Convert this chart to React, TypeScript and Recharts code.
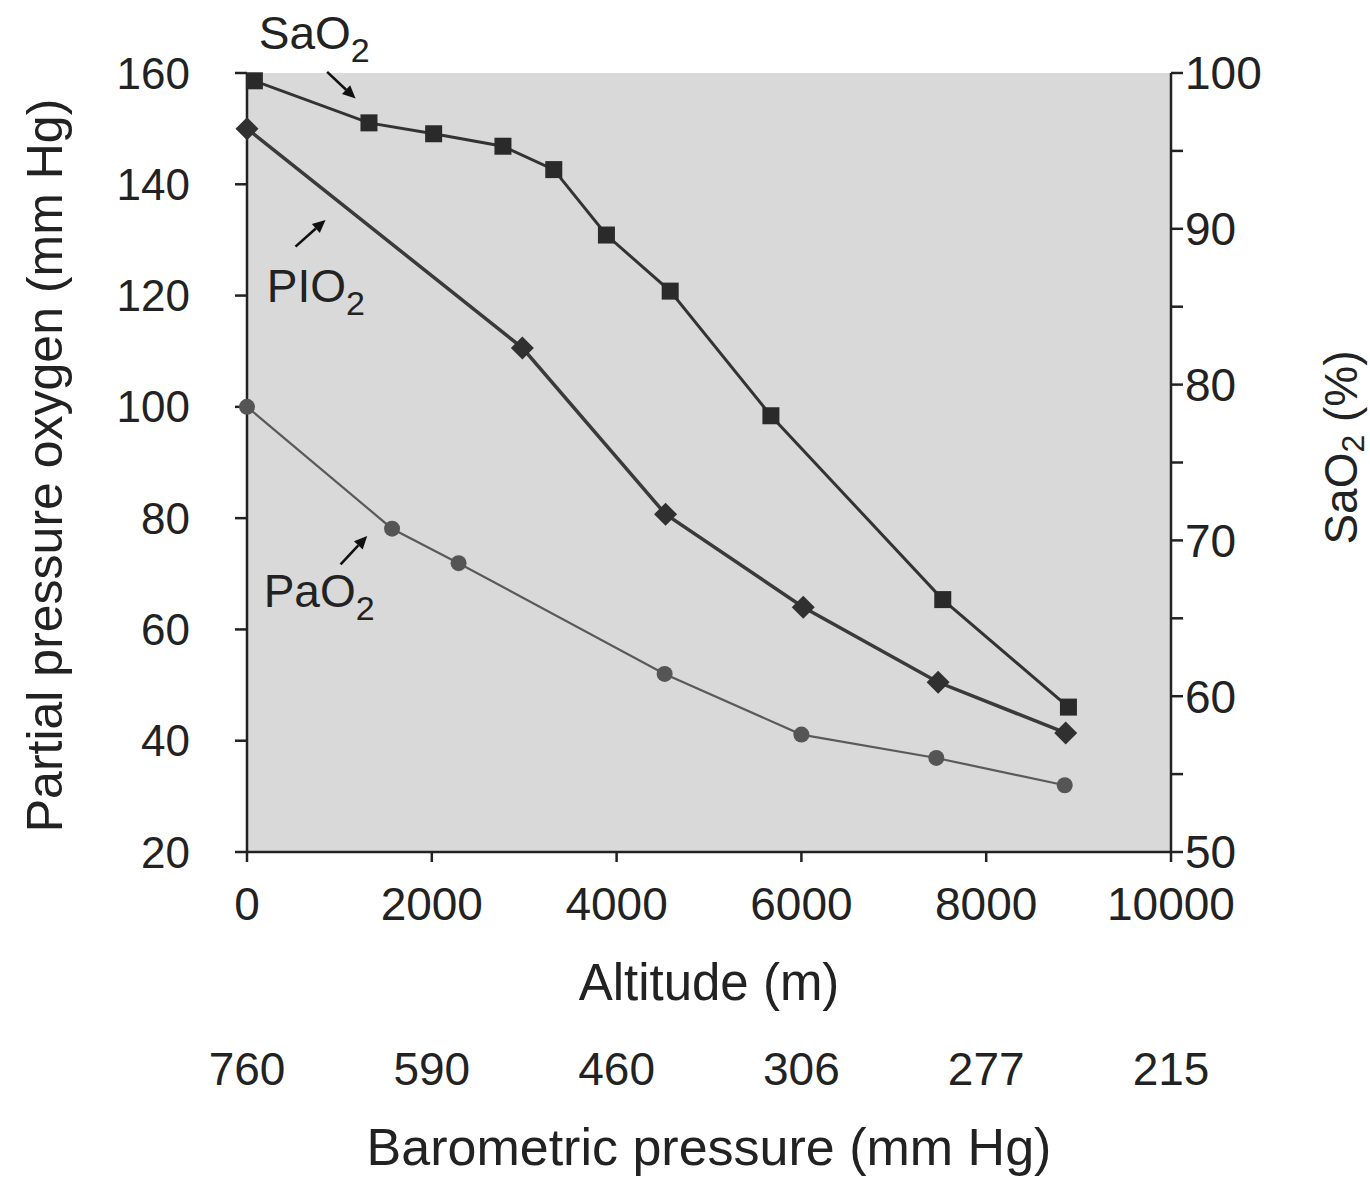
import React from 'react';
import {
  LineChart,
  Line,
  XAxis,
  YAxis,
  CartesianGrid,
  ReferenceLine,
  ReferenceDot,
} from 'recharts';

const FONT = '"Liberation Sans", Arial, Helvetica, sans-serif';
const INK = '#222';

// axes
const altTicks = [0, 2000, 4000, 6000, 8000, 10000];
const baroLabels = ['760', '590', '460', '306', '277', '215'];
const ppTicks = [20, 40, 60, 80, 100, 120, 140, 160];
const satTicks = [50, 55, 60, 65, 70, 75, 80, 85, 90, 95, 100];

// SaO2 (%) – squares, right axis
const saoAlt = [80, 1320, 2020, 2770, 3320, 3890, 4580, 5670, 7530, 8890];
const saoPct = [99.5, 96.8, 96.1, 95.3, 93.8, 89.6, 86.0, 78.0, 66.2, 59.3];

// PIO2 (mm Hg) – diamonds
const pioAlt = [0, 2980, 4530, 6020, 7480, 8860];
const pioMmHg = [150, 110.6, 80.7, 64.0, 50.5, 41.4];

// PaO2 (mm Hg) – circles
const paoAlt = [0, 1570, 2290, 4520, 6000, 7460, 8850];
const paoMmHg = [100, 78.1, 71.9, 52.0, 41.1, 36.9, 32.0];

// callout texts and arrows, in data units (altitude, mm Hg)
const callouts = [
  { main: 'SaO', sub: '2', alt: 127, pp: 164.4, from: [867, 160.2], to: [1175, 155.4] },
  { main: 'PIO', sub: '2', alt: 214, pp: 118.9, from: [525, 128.8], to: [850, 133.6] },
  { main: 'PaO', sub: '2', alt: 180, pp: 64.0, from: [1013, 71.7], to: [1301, 76.8] },
];

const zip = (xs: number[], ys: number[]) => xs.map((alt, i) => ({ alt, v: ys[i] }));
const saoData = zip(saoAlt, saoPct);
const pioData = zip(pioAlt, pioMmHg);
const paoData = zip(paoAlt, paoMmHg);

const Square = (p: any) => (
  <rect key={`sq-${p.index}`} x={p.cx - 8.5} y={p.cy - 8.5} width={17} height={17} fill="#2a2a2a" />
);

const Diamond = (p: any) => (
  <polygon
    key={`dm-${p.index}`}
    points={`${p.cx},${p.cy - 11.5} ${p.cx + 11.5},${p.cy} ${p.cx},${p.cy + 11.5} ${p.cx - 11.5},${p.cy}`}
    fill="#303030"
  />
);

const Circle = (p: any) => <circle key={`ci-${p.index}`} cx={p.cx} cy={p.cy} r={8} fill="#555" />;

const Arrow = (p: any) => {
  const { x1, y1, x2, y2 } = p;
  const ang = Math.atan2(y2 - y1, x2 - x1);
  const L = 13;
  const W = 6;
  const bx = x2 - L * Math.cos(ang);
  const by = y2 - L * Math.sin(ang);
  const px = -Math.sin(ang) * W;
  const py = Math.cos(ang) * W;
  return (
    <g>
      <line x1={x1} y1={y1} x2={bx} y2={by} stroke="#111" strokeWidth={2.6} />
      <polygon points={`${x2},${y2} ${bx + px},${by + py} ${bx - px},${by - py}`} fill="#111" />
    </g>
  );
};

const Formula = (main: string, sub: string) => (p: any) => (
  <text x={p.cx} y={p.cy} fill={INK} fontFamily={FONT} fontSize={46}>
    <tspan>{main}</tspan>
    <tspan fontSize={34} dy={13}>{sub}</tspan>
  </text>
);

// altitude tick with the matching barometric pressure printed further down
const AltTick = (p: any) => {
  const { x, y, payload } = p;
  const i = altTicks.indexOf(payload.value);
  return (
    <g>
      <text x={x} y={y} dy="0.71em" textAnchor="middle" fill={INK} fontFamily={FONT} fontSize={46}>
        {payload.value}
      </text>
      <text x={x} y={y + 165} dy="0.71em" textAnchor="middle" fill={INK} fontFamily={FONT} fontSize={46}>
        {baroLabels[i]}
      </text>
    </g>
  );
};

const LeftTitle = (props: any) => {
  const vb = props.viewBox;
  const cx = vb.x + 45;
  const cy = vb.y + vb.height / 2 + 3;
  return (
    <text
      x={cx}
      y={cy}
      transform={`rotate(-90 ${cx} ${cy})`}
      textAnchor="middle"
      dominantBaseline="central"
      fill={INK}
      fontFamily={FONT}
      fontSize={50}
    >
      Partial pressure oxygen (mm Hg)
    </text>
  );
};

const RightTitle = (props: any) => {
  const vb = props.viewBox;
  const cx = vb.x + 170;
  const cy = vb.y + vb.height / 2 - 15;
  return (
    <text
      x={cx}
      y={cy}
      transform={`rotate(-90 ${cx} ${cy})`}
      textAnchor="middle"
      dominantBaseline="central"
      fill={INK}
      fontFamily={FONT}
      fontSize={46}
    >
      <tspan>SaO</tspan>
      <tspan fontSize={32} dy={12}>2</tspan>
      <tspan dy={-12}> (%)</tspan>
    </text>
  );
};

export default function App() {
  return (
    <div style={{ position: 'absolute', left: 0, top: 0, width: 1370, height: 1178, background: '#fff' }}>
      <LineChart width={1370} height={1178} margin={{ top: 73, right: 0, bottom: 0, left: 0 }} style={{ fontFamily: FONT }}>
        <CartesianGrid fill="#d9d9d9" horizontal={false} vertical={false} xAxisId="alt" yAxisId="pp" />
        <XAxis
          xAxisId="alt"
          dataKey="alt"
          type="number"
          domain={[0, 10000]}
          ticks={altTicks}
          interval={0}
          height={168}
          stroke={INK}
          strokeWidth={2.5}
          tickSize={10}
          tickMargin={25}
          tick={AltTick}
          label={{ value: 'Altitude (m)', position: 'insideBottom', offset: 20, fill: INK, fontSize: 51, fontFamily: FONT }}
        />
        <XAxis
          xAxisId="baro"
          type="number"
          domain={[0, 10000]}
          height={158}
          axisLine={false}
          tickLine={false}
          tick={false}
          label={{ value: 'Barometric pressure (mm Hg)', position: 'insideBottom', offset: 13, fill: INK, fontSize: 52, fontFamily: FONT }}
        />
        <YAxis
          yAxisId="pp"
          type="number"
          domain={[20, 160]}
          ticks={ppTicks}
          interval={0}
          width={247}
          stroke={INK}
          strokeWidth={2.5}
          tickSize={12}
          tickMargin={45}
          tick={{ fill: INK, fontSize: 44, fontFamily: FONT }}
          label={LeftTitle}
        />
        <YAxis
          yAxisId="sat"
          orientation="right"
          type="number"
          domain={[50, 100]}
          ticks={satTicks}
          interval={0}
          width={199}
          stroke={INK}
          strokeWidth={2.5}
          tickSize={12}
          tickMargin={2}
          tickFormatter={(v: number) => (v % 10 === 0 ? String(v) : '')}
          tick={{ fill: INK, fontSize: 46, fontFamily: FONT }}
          label={RightTitle}
        />

        <Line
          xAxisId="alt"
          yAxisId="pp"
          data={paoData}
          dataKey="v"
          type="linear"
          stroke="#5a5a5a"
          strokeWidth={2.2}
          dot={Circle}
          activeDot={false}
          isAnimationActive={false}
        />
        <Line
          xAxisId="alt"
          yAxisId="pp"
          data={pioData}
          dataKey="v"
          type="linear"
          stroke="#3a3a3a"
          strokeWidth={3.5}
          dot={Diamond}
          activeDot={false}
          isAnimationActive={false}
        />
        <Line
          xAxisId="alt"
          yAxisId="sat"
          data={saoData}
          dataKey="v"
          type="linear"
          stroke="#333"
          strokeWidth={3}
          dot={Square}
          activeDot={false}
          isAnimationActive={false}
        />

        {callouts.map((c) => (
          <ReferenceLine
            key={`arrow-${c.main}`}
            xAxisId="alt"
            yAxisId="pp"
            ifOverflow="visible"
            segment={[
              { x: c.from[0], y: c.from[1] },
              { x: c.to[0], y: c.to[1] },
            ]}
            shape={Arrow}
          />
        ))}
        {callouts.map((c) => (
          <ReferenceDot
            key={`text-${c.main}`}
            xAxisId="alt"
            yAxisId="pp"
            x={c.alt}
            y={c.pp}
            r={0}
            ifOverflow="visible"
            shape={Formula(c.main, c.sub)}
          />
        ))}
      </LineChart>
    </div>
  );
}
